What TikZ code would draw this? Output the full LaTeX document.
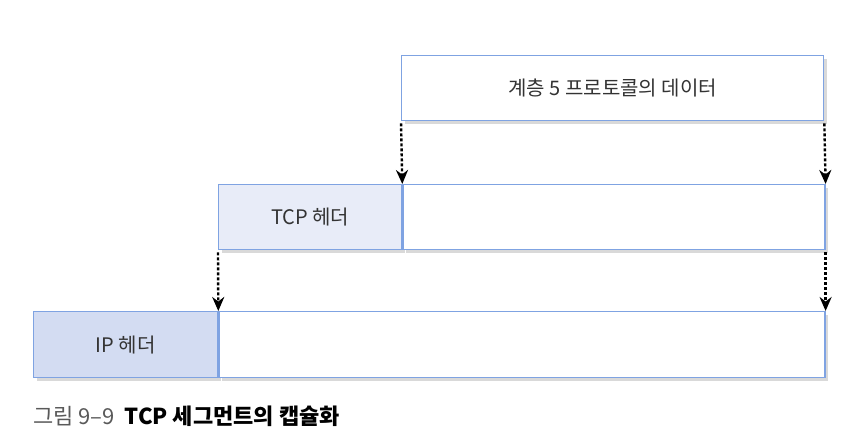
\documentclass[tikz,border=0pt]{standalone}
\usepackage{fontspec}
\setmainfont{Noto Sans CJK KR}
\usepackage{xcolor}
\usetikzlibrary{arrows.meta,positioning,shadows}
\definecolor{boxline}{HTML}{7FA3E2}
\definecolor{tcpfill}{HTML}{E8ECF8}
\definecolor{ipfill}{HTML}{D3DCF2}
\definecolor{txt}{HTML}{333333}
\tikzset{
  seg/.style={draw=boxline,line width=1.3pt,rectangle,inner sep=0pt,
    minimum height=65pt,font=\fontsize{20}{24}\selectfont,text=txt,
    drop shadow={shadow xshift=3pt,shadow yshift=-3pt,fill=black!15,opacity=1}},
  down/.style={line width=2.4pt,dash pattern=on 3pt off 2pt,shorten <=2pt,
    -{Stealth[length=14pt,width=12pt]}}
}
\begin{document}
\begin{tikzpicture}[x=1pt,y=-1pt]
  \useasboundingbox[fill=white] (0,0) rectangle (852,441);
  % layer 5 data
  \node[seg,fill=white,minimum width=422pt,anchor=north west] (l5) at (401,55) {계층 5 프로토콜의 데이터};
  % tcp segment
  \node[seg,fill=tcpfill,minimum width=183pt,anchor=north west] (tcph) at (218,184) {TCP 헤더};
  \node[seg,fill=white,minimum width=422pt,right=0pt of tcph] (tcpd) {};
  % ip datagram
  \node[seg,fill=ipfill,minimum width=184pt,minimum height=66pt,anchor=north west] (iph) at (33,311) {IP 헤더};
  \node[seg,fill=white,minimum width=606pt,minimum height=66pt,right=0pt of iph] (ipd) {};
  \draw[down] (l5.south west) -- (tcpd.north west);
  \draw[down] (l5.south east) -- (tcpd.north east);
  \draw[down] (tcph.south west) -- (ipd.north west);
  \draw[down] (tcpd.south east) -- (ipd.north east);
  \node[anchor=base west,inner sep=0pt,font=\fontsize{22}{26}\selectfont] (cap) at (33,424)
    {\textcolor{black!65}{그림 9--9}\hspace{10pt}\textbf{TCP 세그먼트의 캡슐화}};
\end{tikzpicture}
\end{document}
